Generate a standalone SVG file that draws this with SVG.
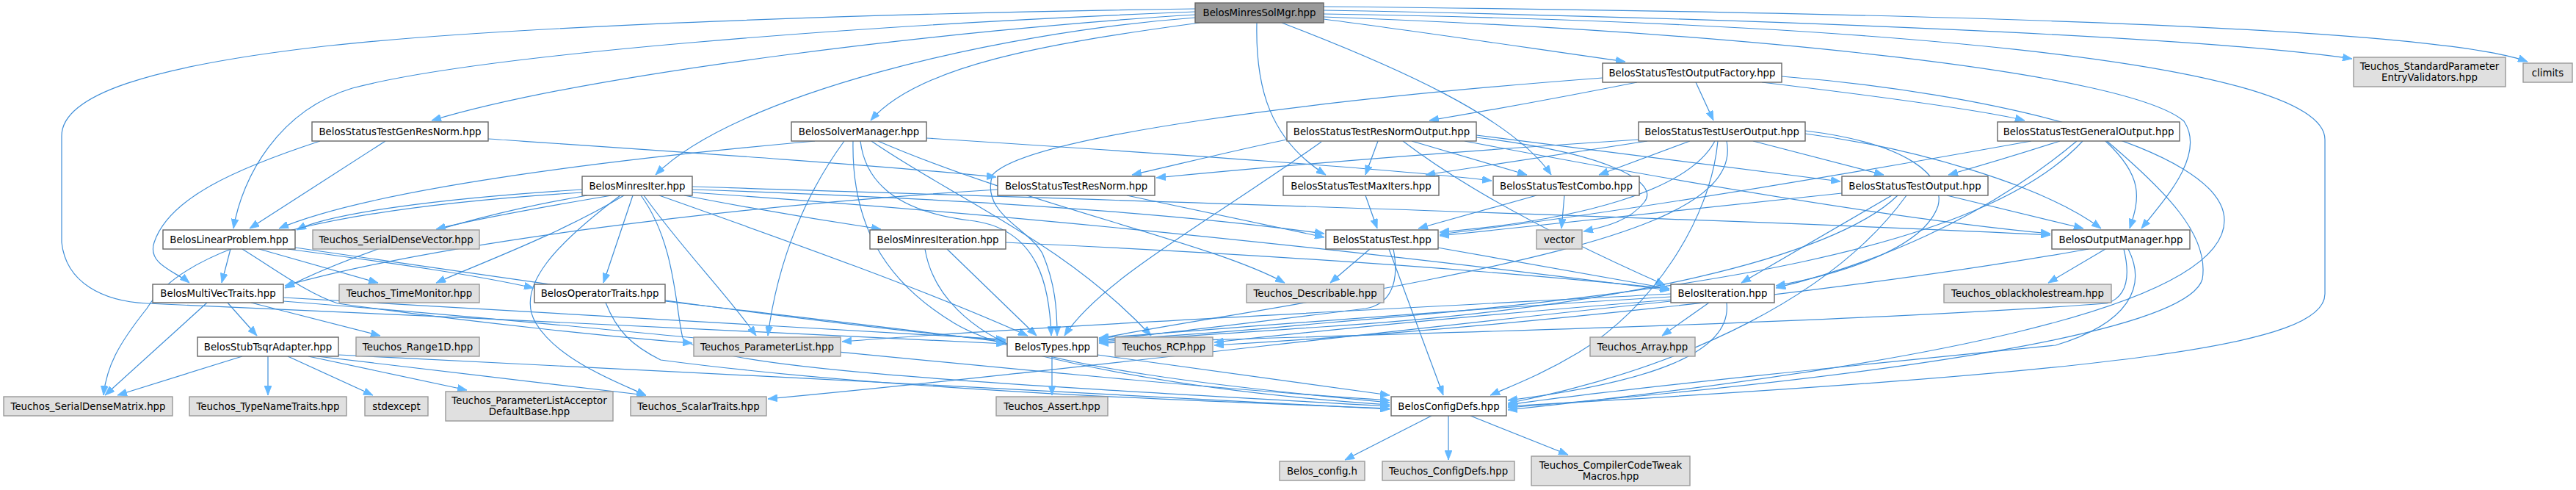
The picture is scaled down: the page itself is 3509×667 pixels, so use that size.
<svg xmlns="http://www.w3.org/2000/svg" width="3509" height="667" viewBox="0 0 3509 667">
<style>
.n rect{fill:#ffffff;stroke:#666666;stroke-width:1.4}
.x rect{fill:#e0e0e0;stroke:#999999;stroke-width:1.4}
.r rect{fill:#999999;stroke:#666666;stroke-width:1.4}
text{font-family:"DejaVu Sans","Liberation Sans",sans-serif;font-size:13.3px;fill:#000000;text-anchor:middle}
#edges path{fill:none;stroke:#3f8ed8;stroke-width:1.2;marker-end:url(#ah)}
</style>
<defs>
<marker id="ah" markerUnits="userSpaceOnUse" markerWidth="13" markerHeight="10" refX="13" refY="5" orient="auto">
<path d="M0,0 L13,5 L0,10 z" fill="#63b8ff" stroke="#63b8ff" stroke-width="0.8"/>
</marker>
</defs>
<rect x="0" y="0" width="3509" height="667" fill="#ffffff"/>
<g id="edges">
<path d="M1628,12 C1200,18 700,35 450,62 C200,90 84,130 84,185 L84,330 C90,385 140,410 200,413 C600,430 1100,455 1370,468"/>
<path d="M1628,16 C1150,35 650,75 480,120 C380,150 330,240 318,311"/>
<path d="M1628,20 C1300,40 800,100 588,164"/>
<path d="M1628,24 C1350,45 1000,130 893,238"/>
<path d="M1634,31 C1420,60 1250,90 1186,164"/>
<path d="M1712,31 C1710,120 1730,190 1806,238"/>
<path d="M1746,31 C1900,90 2060,160 2113,238"/>
<path d="M1803,26 C1950,45 2100,68 2214,84"/>
<path d="M1803,9 C2400,15 3300,30 3443,84"/>
<path d="M1803,14 C2400,25 3000,50 3204,80"/>
<path d="M1803,19 C2500,30 3167,80 3167,190 L3167,400 C3167,470 2900,505 2054,553"/>
<path d="M1803,23 C2400,45 2900,100 2975,165 C3005,210 2950,270 2917,311"/>
<path d="M2183,106 C1800,135 1400,185 1352,238 C1335,290 1400,310 1420,345 C1437,385 1440,420 1440,457"/>
<path d="M2230,112 C2150,128 2030,150 1947,164"/>
<path d="M2310,112 L2334,164"/>
<path d="M2400,112 C2550,130 2700,150 2758,164"/>
<path d="M2427,104 C2700,125 3030,200 3030,300 C3030,420 2600,500 2054,558"/>
<path d="M525,192 L340,311"/>
<path d="M436,192 C320,230 230,270 210,330 C200,360 240,370 258,385"/>
<path d="M665,189 C900,205 1200,225 1357,241"/>
<path d="M1110,192 C800,220 500,260 380,311"/>
<path d="M1150,192 C1100,260 1060,350 1046,457"/>
<path d="M1162,192 C1160,300 1200,380 1300,440 C1400,500 1700,530 1893,548"/>
<path d="M1172,192 C1180,260 1240,290 1320,300 C1420,310 1430,400 1432,457"/>
<path d="M1187,192 C1300,270 1450,330 1568,457"/>
<path d="M1196,192 C1400,280 1650,330 1750,385"/>
<path d="M1262,188 C1600,210 1900,230 2032,246"/>
<path d="M793,258 C600,270 450,290 404,313"/>
<path d="M800,266 C600,300 450,360 388,392"/>
<path d="M833,266 C720,285 640,300 594,312"/>
<path d="M850,266 C760,320 650,360 594,385"/>
<path d="M862,266 L822,385"/>
<path d="M877,266 C930,340 990,400 1030,457"/>
<path d="M845,266 C760,330 700,390 730,440 C760,490 840,520 880,538"/>
<path d="M873,266 C920,330 920,420 930,460 C960,500 1300,520 1893,553"/>
<path d="M898,266 C1050,320 1250,390 1400,457"/>
<path d="M932,266 C1030,285 1120,300 1200,312"/>
<path d="M943,258 C1300,270 1600,290 1804,318"/>
<path d="M943,254 C1600,275 2400,300 2793,320"/>
<path d="M793,262 C500,280 260,320 200,420 C160,470 145,500 141,538"/>
<path d="M943,262 C1500,300 2000,360 2274,395"/>
<path d="M314,339 L302,385"/>
<path d="M353,339 L515,385"/>
<path d="M392,339 C550,360 650,375 727,392"/>
<path d="M330,339 C380,370 420,400 460,413 C650,440 850,460 943,467"/>
<path d="M402,337 C700,380 1100,440 1370,464"/>
<path d="M282,412 L143,538"/>
<path d="M310,412 L350,457"/>
<path d="M342,412 L518,457"/>
<path d="M386,405 C800,430 1200,455 1370,462"/>
<path d="M386,410 C900,450 1500,520 1893,545"/>
<path d="M330,485 L160,538"/>
<path d="M365,485 L365,538"/>
<path d="M392,485 L508,538"/>
<path d="M420,485 L636,531"/>
<path d="M432,485 L880,538"/>
<path d="M461,483 C900,505 1500,535 1893,557"/>
<path d="M825,412 C840,450 860,470 900,490 C1200,530 1600,545 1893,556"/>
<path d="M906,410 C1100,433 1250,450 1370,466"/>
<path d="M1260,339 C1270,400 1320,450 1400,480 C1600,530 1800,545 1893,551"/>
<path d="M1290,339 L1412,457"/>
<path d="M1370,330 C1800,350 2100,375 2274,393"/>
<path d="M1535,266 L1804,323"/>
<path d="M1359,258 C1000,280 600,330 388,389"/>
<path d="M1877,192 L1860,238"/>
<path d="M1923,192 L2080,238"/>
<path d="M1753,190 C1680,205 1600,225 1542,238"/>
<path d="M1911,192 C2000,260 2130,327 2268,388"/>
<path d="M1800,193 C1650,300 1500,380 1450,457"/>
<path d="M2011,184 L2507,247"/>
<path d="M1995,192 C2300,250 2600,300 2793,318"/>
<path d="M2011,187 C2200,210 2260,250 2240,275 C2220,300 2190,308 2157,315"/>
<path d="M2232,190 C2000,205 1750,225 1575,242"/>
<path d="M2244,192 L1942,238"/>
<path d="M2302,192 L2178,238"/>
<path d="M2336,192 C2300,260 2150,300 1961,316"/>
<path d="M2352,192 C2370,280 2200,330 1950,380 C1750,420 1600,440 1497,461"/>
<path d="M2388,192 L2566,238"/>
<path d="M2459,178 C2600,195 2650,240 2640,280 C2620,340 2500,375 2419,389"/>
<path d="M2459,182 C2600,200 2780,250 2862,311"/>
<path d="M2340,192 C2330,300 2250,420 2150,480 C2100,510 2060,525 2030,538"/>
<path d="M2767,192 C2500,240 2200,290 1961,319"/>
<path d="M2806,192 C2750,210 2700,225 2654,238"/>
<path d="M2829,192 C2700,300 2550,360 2419,392"/>
<path d="M2837,192 C2700,340 2300,400 1800,440 C1650,455 1550,460 1497,463"/>
<path d="M2868,192 C2920,240 2915,270 2901,311"/>
<path d="M2870,192 C2950,260 3010,320 3000,380 C2980,450 2600,510 2054,555"/>
<path d="M2509,263 C2300,285 2100,305 1961,321"/>
<path d="M2577,266 L2372,385"/>
<path d="M2585,266 C2500,350 2200,420 1800,445 C1650,455 1560,462 1497,465"/>
<path d="M2597,266 C2500,400 2300,500 2054,549"/>
<path d="M2652,266 L2838,311"/>
<path d="M2845,339 C2500,400 2000,450 1654,470"/>
<path d="M2868,339 L2790,385"/>
<path d="M2893,339 C2903,380 2895,405 2870,413 C2500,440 1900,455 1497,467"/>
<path d="M2899,339 C2925,390 2900,440 2800,470 C2500,500 2200,530 2054,551"/>
<path d="M2328,412 L2264,457"/>
<path d="M2352,412 C2360,480 2250,520 2054,545"/>
<path d="M2276,404 C2000,420 1700,445 1497,460"/>
<path d="M2276,408 C2000,430 1800,450 1654,466"/>
<path d="M2276,400 C1900,420 1400,445 1147,465"/>
<path d="M2276,410 C1800,460 1400,510 1046,543"/>
<path d="M1866,339 L1812,385"/>
<path d="M1892,339 L1966,538"/>
<path d="M1958,337 L2274,393"/>
<path d="M1898,339 C1908,390 1890,415 1860,420 C1700,440 1580,455 1497,463"/>
<path d="M1860,266 L1876,311"/>
<path d="M2093,266 L1932,311"/>
<path d="M2131,266 L2127,311"/>
<path d="M1433,485 L1433,538"/>
<path d="M1495,483 L1893,538"/>
<path d="M1950,566 L1832,626"/>
<path d="M1973,566 L1973,626"/>
<path d="M2003,566 L2136,619"/>
</g>
<g id="node-root" class="r"><rect x="1628" y="4" width="175" height="27"/><text x="1715.5" y="22.2">BelosMinresSolMgr.hpp</text></g>
<g id="node-of" class="n"><rect x="2183" y="86" width="244" height="26"/><text x="2305" y="103.7">BelosStatusTestOutputFactory.hpp</text></g>
<g id="node-spev" class="x"><rect x="3206" y="78" width="207" height="40"/><text x="3309.5" y="95">Teuchos_StandardParameter</text><text x="3309.5" y="110">EntryValidators.hpp</text></g>
<g id="node-climits" class="x"><rect x="3437" y="86" width="67" height="26"/><text x="3470.5" y="103.7">climits</text></g>
<g id="node-grn" class="n"><rect x="425" y="166" width="240" height="26"/><text x="545" y="183.7">BelosStatusTestGenResNorm.hpp</text></g>
<g id="node-sm" class="n"><rect x="1078" y="166" width="184" height="26"/><text x="1170" y="183.7">BelosSolverManager.hpp</text></g>
<g id="node-rno" class="n"><rect x="1753" y="166" width="258" height="26"/><text x="1882" y="183.7">BelosStatusTestResNormOutput.hpp</text></g>
<g id="node-uo" class="n"><rect x="2232" y="166" width="227" height="26"/><text x="2345.5" y="183.7">BelosStatusTestUserOutput.hpp</text></g>
<g id="node-go" class="n"><rect x="2721" y="166" width="248" height="26"/><text x="2845" y="183.7">BelosStatusTestGeneralOutput.hpp</text></g>
<g id="node-mi" class="n"><rect x="793" y="240" width="150" height="26"/><text x="868" y="257.7">BelosMinresIter.hpp</text></g>
<g id="node-rn" class="n"><rect x="1359" y="240" width="214" height="26"/><text x="1466" y="257.7">BelosStatusTestResNorm.hpp</text></g>
<g id="node-mx" class="n"><rect x="1748" y="240" width="212" height="26"/><text x="1854" y="257.7">BelosStatusTestMaxIters.hpp</text></g>
<g id="node-cb" class="n"><rect x="2034" y="240" width="199" height="26"/><text x="2133.5" y="257.7">BelosStatusTestCombo.hpp</text></g>
<g id="node-sto" class="n"><rect x="2509" y="240" width="199" height="26"/><text x="2608.5" y="257.7">BelosStatusTestOutput.hpp</text></g>
<g id="node-lp" class="n"><rect x="222" y="313" width="180" height="26"/><text x="312" y="330.7">BelosLinearProblem.hpp</text></g>
<g id="node-sdv" class="x"><rect x="426" y="313" width="227" height="26"/><text x="539.5" y="330.7">Teuchos_SerialDenseVector.hpp</text></g>
<g id="node-mit" class="n"><rect x="1185" y="313" width="185" height="26"/><text x="1277.5" y="330.7">BelosMinresIteration.hpp</text></g>
<g id="node-st" class="n"><rect x="1806" y="313" width="153" height="26"/><text x="1882.5" y="330.7">BelosStatusTest.hpp</text></g>
<g id="node-vec" class="x"><rect x="2093" y="313" width="62" height="26"/><text x="2124" y="330.7">vector</text></g>
<g id="node-om" class="n"><rect x="2795" y="313" width="188" height="26"/><text x="2889" y="330.7">BelosOutputManager.hpp</text></g>
<g id="node-mvt" class="n"><rect x="208" y="387" width="178" height="25"/><text x="297" y="404.2">BelosMultiVecTraits.hpp</text></g>
<g id="node-tm" class="x"><rect x="462" y="387" width="191" height="25"/><text x="557.5" y="404.2">Teuchos_TimeMonitor.hpp</text></g>
<g id="node-ot" class="n"><rect x="728" y="387" width="178" height="25"/><text x="817" y="404.2">BelosOperatorTraits.hpp</text></g>
<g id="node-desc" class="x"><rect x="1698" y="387" width="187" height="25"/><text x="1791.5" y="404.2">Teuchos_Describable.hpp</text></g>
<g id="node-it" class="n"><rect x="2276" y="387" width="141" height="25"/><text x="2346.5" y="404.2">BelosIteration.hpp</text></g>
<g id="node-obh" class="x"><rect x="2648" y="387" width="228" height="25"/><text x="2762" y="404.2">Teuchos_oblackholestream.hpp</text></g>
<g id="node-sta" class="n"><rect x="269" y="459" width="192" height="26"/><text x="365" y="476.7">BelosStubTsqrAdapter.hpp</text></g>
<g id="node-r1d" class="x"><rect x="485" y="459" width="168" height="26"/><text x="569" y="476.7">Teuchos_Range1D.hpp</text></g>
<g id="node-pl" class="x"><rect x="945" y="459" width="200" height="26"/><text x="1045" y="476.7">Teuchos_ParameterList.hpp</text></g>
<g id="node-ty" class="n"><rect x="1372" y="459" width="123" height="26"/><text x="1433.5" y="476.7">BelosTypes.hpp</text></g>
<g id="node-rcp" class="x"><rect x="1519" y="459" width="133" height="26"/><text x="1585.5" y="476.7">Teuchos_RCP.hpp</text></g>
<g id="node-arr" class="x"><rect x="2166" y="459" width="143" height="26"/><text x="2237.5" y="476.7">Teuchos_Array.hpp</text></g>
<g id="node-sdm" class="x"><rect x="5" y="540" width="230" height="26"/><text x="120" y="557.7">Teuchos_SerialDenseMatrix.hpp</text></g>
<g id="node-tnt" class="x"><rect x="258" y="540" width="214" height="26"/><text x="365" y="557.7">Teuchos_TypeNameTraits.hpp</text></g>
<g id="node-stdx" class="x"><rect x="497" y="540" width="86" height="26"/><text x="540" y="557.7">stdexcept</text></g>
<g id="node-pla" class="x"><rect x="607" y="533" width="228" height="40"/><text x="721" y="550">Teuchos_ParameterListAcceptor</text><text x="721" y="565">DefaultBase.hpp</text></g>
<g id="node-sct" class="x"><rect x="859" y="540" width="185" height="26"/><text x="951.5" y="557.7">Teuchos_ScalarTraits.hpp</text></g>
<g id="node-as" class="x"><rect x="1357" y="540" width="152" height="26"/><text x="1433" y="557.7">Teuchos_Assert.hpp</text></g>
<g id="node-cd" class="n"><rect x="1895" y="540" width="157" height="26"/><text x="1973.5" y="557.7">BelosConfigDefs.hpp</text></g>
<g id="node-bch" class="x"><rect x="1743" y="628" width="116" height="26"/><text x="1801" y="645.7">Belos_config.h</text></g>
<g id="node-tcd" class="x"><rect x="1883" y="628" width="180" height="26"/><text x="1973" y="645.7">Teuchos_ConfigDefs.hpp</text></g>
<g id="node-cct" class="x"><rect x="2086" y="621" width="216" height="40"/><text x="2194" y="638">Teuchos_CompilerCodeTweak</text><text x="2194" y="653">Macros.hpp</text></g>
</svg>
